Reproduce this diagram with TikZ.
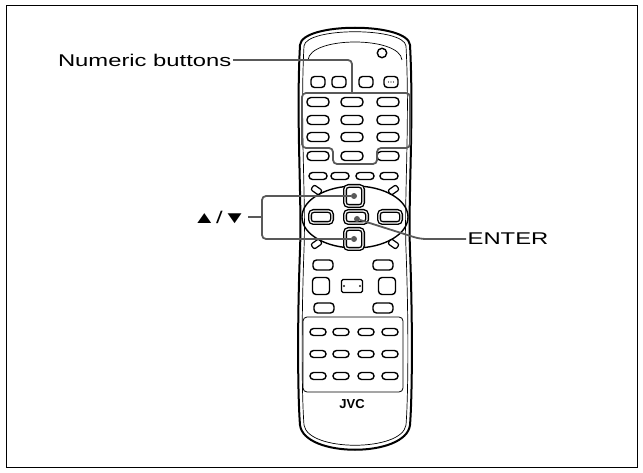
\documentclass[tikz,border=0pt]{standalone}
\usepackage{fontspec}
\setmainfont{Liberation Sans}
\usetikzlibrary{positioning,calc}

\begin{document}
\begin{tikzpicture}[x=1pt, y=-1pt,
      btn/.style={draw, line width=1.4pt, rounded corners=3.5pt, inner sep=0pt},
      lead/.style={draw=gray!70!black, line width=1.8pt, rounded corners=4pt},
      dot/.style={circle, fill=gray!70!black, inner sep=0pt, minimum size=6pt},
      label/.style={font=\fontsize{17}{19}\selectfont, xscale=1.4, inner sep=1pt}]
      \useasboundingbox (0,0) rectangle (643,473);
      \draw[line width=1pt] (6,6) rectangle (637,467);

      % remote body
      \draw[line width=2pt] (300,45) .. controls (302,22) and (408,22) .. (410,45)
        .. controls (414,120) and (408,200) .. (410,250)
        .. controls (413,330) and (412,400) .. (410,425)
        .. controls (406,458) and (304,458) .. (300,425)
        .. controls (298,400) and (297,330) .. (300,250)
        .. controls (302,200) and (296,120) .. (300,45) -- cycle;
      \draw[line width=0.7pt] (304,46) .. controls (306,27) and (404,27) .. (406,46)
        .. controls (410,120) and (404,200) .. (406,250)
        .. controls (409,330) and (408,400) .. (406,425)
        .. controls (402,452) and (308,452) .. (304,425)
        .. controls (302,400) and (301,330) .. (304,250)
        .. controls (306,200) and (300,120) .. (304,46) -- cycle;
      \draw[line width=0.7pt] (308,60) .. controls (310,36) and (400,36) .. (402,60);

      % top buttons
      \node[circle, draw, line width=1.4pt, minimum size=8pt] (power) at (382,53) {};
      \foreach \x [count=\i] in {318,339,366,391}
        \node[btn, minimum width=14pt, minimum height=11pt] (top\i) at (\x,82) {};
      \foreach \d in {-2.5,0,2.5}
        \fill (391+\d,82) circle (0.6pt);

      % numeric keypad
      \foreach \y [count=\r] in {102,120,137,156}
        \foreach \x [count=\c] in {318,352,388}
          \node[btn, minimum width=22pt, minimum height=9pt, rounded corners=4pt] (num\r\c) at (\x,\y) {};
      \draw[lead] (333,148) -- (302,148) -- (302,93) -- (410,93) -- (410,148) -- (377,148)
        -- (377,164) -- (333,164) -- cycle;

      % colour buttons
      \foreach \x [count=\i] in {318,340,365,389}
        \node[btn, minimum width=18pt, minimum height=7pt] (col\i) at (\x,176) {};

      % navigation pad
      \draw[line width=1.4pt] (355,217) ellipse (53pt and 31pt);
      \foreach \a in {35,145,215,325}
        \draw[line width=1.2pt, rounded corners=2pt, rotate around={\a:(355,217)}]
          ($(355,217)+(42,-3)$) rectangle ($(355,217)+(52,3)$);
      \node[btn, minimum width=18pt, minimum height=20pt, double, double distance=1.2pt] (up) at (354,196) {};
      \node[btn, minimum width=18pt, minimum height=20pt, double, double distance=1.2pt] (down) at (354,239) {};
      \node[btn, minimum width=22pt, minimum height=12pt, double, double distance=1.2pt] (enter) at (356,217) {};
      \node[btn, minimum width=22pt, minimum height=12pt, double, double distance=1.2pt] (left) at (321,217) {};
      \node[btn, minimum width=22pt, minimum height=12pt, double, double distance=1.2pt] (right) at (390,217) {};
      \node[dot] (updot) at (354,196) {};
      \node[dot] (downdot) at (354,239) {};
      \node[dot] (enterdot) at (357,219) {};

      % lower buttons
      \node[btn, minimum width=20pt, minimum height=10pt] (b1) at (323,265) {};
      \node[btn, minimum width=20pt, minimum height=10pt] (b2) at (383,265) {};
      \node[btn, minimum width=17pt, minimum height=17pt] (sq1) at (321,286) {};
      \node[btn, minimum width=21pt, minimum height=13pt, rounded corners=1.5pt] (mid) at (352,286) {};
      \node[btn, minimum width=17pt, minimum height=17pt] (sq2) at (387,286) {};
      \draw (344,286) circle (0.9pt) (360,286) circle (0.9pt);
      \node[btn, minimum width=20pt, minimum height=10pt] (b3) at (324,308) {};
      \node[btn, minimum width=20pt, minimum height=10pt] (b4) at (383,308) {};
      \draw[line width=0.8pt, rounded corners=4pt] (303,317) rectangle (403,392);
      \foreach \y [count=\r] in {332,354,376}
        \foreach \x [count=\c] in {318,341,366,390}
          \node[btn, minimum width=16pt, minimum height=7pt] (s\r\c) at (\x,\y) {};
      \node[font=\bfseries\fontsize{13}{14}\selectfont] (logo) at (352,404) {JVC};

      % labels and leaders
      \node[label, anchor=east] (numtext) at (233,60) {Numeric buttons};
      \draw[lead] (numtext.east) -- (352,60) -- (352,93);
      \node[label, anchor=east] (arrtext) at (248,217) {▲/▼};
      \draw[lead] (arrtext.east) -- (262,217);
      \draw[lead] (updot) -| (262,239) -- (downdot);
      \node[label, anchor=west] (entertext) at (466,239) {ENTER};
      \draw[lead, rounded corners=6pt] (enterdot) -- (420,239) -- (entertext.west);
\end{tikzpicture}
\end{document}
